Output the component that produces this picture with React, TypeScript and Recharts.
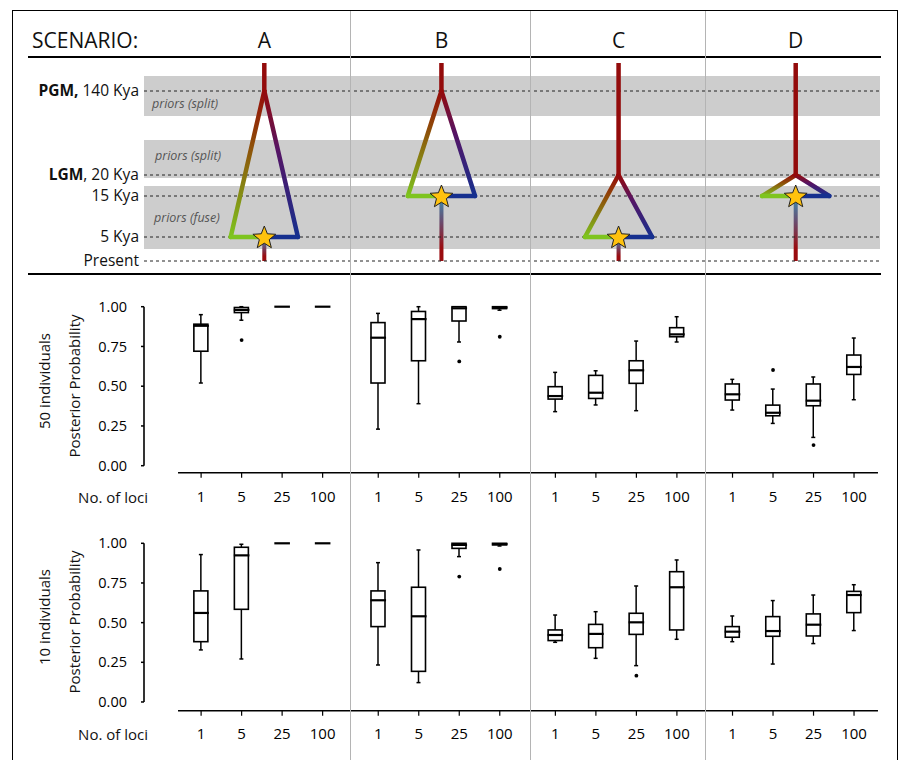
import React from 'react';
import {
  ComposedChart,
  Bar,
  Scatter,
  XAxis,
  YAxis,
  ReferenceLine,
  ReferenceArea,
} from 'recharts';

const SCENARIOS = ['A', 'B', 'C', 'D'];
const LOCI = ['1', '5', '25', '100'];
const Y_TICKS = [0, 0.25, 0.5, 0.75, 1];

// [min, q1, median, q3, max] for 1, 5, 25, 100 loci
const N50_A = [[0.52, 0.72, 0.88, 0.89, 0.95], [0.915, 0.963, 0.98, 0.995, 1], [1, 1, 1, 1, 1], [1, 1, 1, 1, 1]];
const N50_B = [[0.23, 0.52, 0.805, 0.9, 0.958], [0.39, 0.66, 0.922, 0.97, 1], [0.778, 0.91, 0.99, 1, 1], [0.978, 0.988, 0.995, 1, 1]];
const N50_C = [[0.34, 0.419, 0.438, 0.497, 0.587], [0.382, 0.423, 0.459, 0.568, 0.597], [0.346, 0.518, 0.6, 0.66, 0.784], [0.778, 0.811, 0.826, 0.868, 0.937]];
const N50_D = [[0.35, 0.413, 0.449, 0.514, 0.543], [0.266, 0.314, 0.333, 0.381, 0.482], [0.178, 0.377, 0.409, 0.514, 0.558], [0.415, 0.574, 0.621, 0.696, 0.803]];
const N50_OUTLIERS = [
  { scenario: 'A', loci: '5', value: 0.79 },
  { scenario: 'B', loci: '25', value: 0.656 },
  { scenario: 'B', loci: '100', value: 0.811 },
  { scenario: 'D', loci: '5', value: 0.602 },
  { scenario: 'D', loci: '25', value: 0.13 },
];

const N10_A = [[0.328, 0.38, 0.561, 0.7, 0.929], [0.271, 0.584, 0.924, 0.975, 0.994], [1, 1, 1, 1, 1], [1, 1, 1, 1, 1]];
const N10_B = [[0.233, 0.475, 0.641, 0.7, 0.878], [0.122, 0.193, 0.54, 0.723, 0.958], [0.916, 0.968, 0.99, 1, 1], [0.983, 0.99, 0.995, 1, 1]];
const N10_C = [[0.376, 0.387, 0.422, 0.454, 0.548], [0.275, 0.342, 0.429, 0.489, 0.569], [0.229, 0.426, 0.502, 0.559, 0.731], [0.395, 0.454, 0.723, 0.821, 0.895]];
const N10_D = [[0.38, 0.408, 0.443, 0.475, 0.542], [0.239, 0.414, 0.447, 0.538, 0.639], [0.368, 0.416, 0.487, 0.555, 0.674], [0.45, 0.563, 0.674, 0.697, 0.739]];
const N10_OUTLIERS = [
  { scenario: 'B', loci: '25', value: 0.79 },
  { scenario: 'B', loci: '100', value: 0.838 },
  { scenario: 'C', loci: '25', value: 0.166 },
];

// schematic time axis (not to scale): level 0 = present
const TIME_EVENTS = [
  { key: 'PGM', bold: 'PGM,', text: ' 140 Kya', level: 170 },
  { key: 'LGM', bold: 'LGM', text: ', 20 Kya', level: 86 },
  { key: '15', bold: '', text: '15 Kya', level: 65 },
  { key: '5', bold: '', text: '5 Kya', level: 24 },
  { key: '0', bold: '', text: 'Present', level: 0 },
];
const PRIOR_BANDS = [
  { label: 'priors (split)', from: 145, to: 185 },
  { label: 'priors (split)', from: 83, to: 121 },
  { label: 'priors (fuse)', from: 12, to: 75 },
];
const TREE_SPLIT = ['PGM', 'PGM', 'LGM', 'LGM'];
const TREE_FUSE = ['5', '15', '5', '15'];
const TOP_LEVEL = 198;

// layout
const FONT = "'Open Sans', 'Noto Sans', sans-serif";
const W = 898;
const PLOT_LEFT = 144;
const PLOT_RIGHT = 880;
const X_DOMAIN: [number, number] = [-1.41, 16.76];
const GROUP_STEP = 4.373;
const AXIS_START = -0.57;
const TREE_HALF = 0.83;
const TREE_SHIFT = 0.06;

const slot = (g: number, l: number) => g * GROUP_STEP + l;
const treeCenter = (g: number) => slot(g, 1.5) + TREE_SHIFT;
const px = (u: number) =>
  PLOT_LEFT + ((u - X_DOMAIN[0]) / (X_DOMAIN[1] - X_DOMAIN[0])) * (PLOT_RIGHT - PLOT_LEFT);
const levelOf = (key: string) => TIME_EVENTS.find((e) => e.key === key)!.level;

function buildRows(groups: number[][][]) {
  return groups.flatMap((g, gi) =>
    g.map(([min, q1, med, q3, max], li) => ({
      pos: slot(gi, li),
      base: min,
      lowW: q1 - min,
      box: q3 - q1,
      highW: max - q3,
      median: med,
    }))
  );
}

function buildOutliers(list: { scenario: string; loci: string; value: number }[]) {
  return list.map((o) => ({
    pos: slot(SCENARIOS.indexOf(o.scenario), LOCI.indexOf(o.loci)),
    value: o.value,
  }));
}

const LowWhisker = (p: any) => {
  const { x, y, width, height } = p;
  if (!height || height < 0.5) return <g />;
  const cx = x + width / 2;
  const yb = y + height;
  return (
    <g stroke="#000" strokeWidth={1.5}>
      <line x1={cx} x2={cx} y1={y} y2={yb} />
      <line x1={cx - 2} x2={cx + 2} y1={yb} y2={yb} />
    </g>
  );
};

const HighWhisker = (p: any) => {
  const { x, y, width, height } = p;
  if (!height || height < 0.5) return <g />;
  const cx = x + width / 2;
  return (
    <g stroke="#000" strokeWidth={1.5}>
      <line x1={cx} x2={cx} y1={y} y2={y + height} />
      <line x1={cx - 2} x2={cx + 2} y1={y} y2={y} />
    </g>
  );
};

const BoxRect = (p: any) => {
  const { x, y, width, height } = p;
  if (!height || height < 0.5) return <g />;
  return <rect x={x} y={y} width={width} height={height} fill="#fff" stroke="#000" strokeWidth={1.6} />;
};

const MedianMark = (p: any) => (
  <line x1={p.cx - 7.8} x2={p.cx + 7.8} y1={p.cy} y2={p.cy} stroke="#000" strokeWidth={2.2} />
);

const OutlierDot = (p: any) => <circle cx={p.cx} cy={p.cy} r={1.9} fill="#000" />;

const Star = (p: any) => {
  const pts: string[] = [];
  for (let k = 0; k < 10; k++) {
    const r = k % 2 === 0 ? 12 : 5.2;
    const a = -Math.PI / 2 + (k * Math.PI) / 5;
    pts.push(`${p.cx + r * Math.cos(a)},${p.cy + 1 + r * Math.sin(a)}`);
  }
  return <polygon points={pts.join(' ')} fill="#ffc20e" stroke="#222" strokeWidth={1} strokeLinejoin="round" />;
};

const TimeTick = (p: any) => {
  const ev = TIME_EVENTS.find((e) => e.level === p.payload.value);
  if (!ev) return <g />;
  return (
    <text x={p.x} y={p.y} dy={5} textAnchor="end" fontSize={15.5} fill="#111" fontFamily={FONT}>
      {ev.bold ? <tspan fontWeight={700}>{ev.bold}</tspan> : null}
      <tspan>{ev.text}</tspan>
    </text>
  );
};

const BAND_LABEL_POS = [
  { position: 'insideBottomLeft', offset: 8 },
  { position: 'insideTopLeft', offset: 11 },
  { position: 'insideLeft', offset: 10 },
];

function TreePanel() {
  const stars = SCENARIOS.map((_, g) => ({ pos: treeCenter(g), level: levelOf(TREE_FUSE[g]) }));
  return (
    <div style={{ position: 'absolute', left: 0, top: 58 }}>
      <ComposedChart width={W} height={214} data={stars} margin={{ top: 5, right: W - PLOT_RIGHT, bottom: 11, left: 14 }}>
        <defs>
          <linearGradient id="branchL" x1="0" y1="0" x2="0" y2="1">
            <stop offset="0%" stopColor="#950a0a" />
            <stop offset="35%" stopColor="#8f4a08" />
            <stop offset="100%" stopColor="#7ec41f" />
          </linearGradient>
          <linearGradient id="branchR" x1="0" y1="0" x2="0" y2="1">
            <stop offset="0%" stopColor="#950a0a" />
            <stop offset="40%" stopColor="#561464" />
            <stop offset="100%" stopColor="#16308f" />
          </linearGradient>
          <linearGradient id="stem" x1="0" y1="0" x2="0" y2="1">
            <stop offset="0%" stopColor="#3b90b4" />
            <stop offset="40%" stopColor="#6a4b6e" />
            <stop offset="80%" stopColor="#9a0c10" />
            <stop offset="100%" stopColor="#9a0c10" />
          </linearGradient>
        </defs>
        <XAxis type="number" dataKey="pos" domain={X_DOMAIN} hide />
        <YAxis
          type="number"
          domain={[0, TOP_LEVEL]}
          ticks={TIME_EVENTS.map((e) => e.level)}
          interval={0}
          axisLine={false}
          tickLine={false}
          tickSize={0}
          tickMargin={5}
          width={130}
          tick={<TimeTick />}
        />
        {PRIOR_BANDS.map((b, i) => (
          <ReferenceArea
            key={'band' + i}
            y1={b.from}
            y2={b.to}
            fill="#cdcdcd"
            fillOpacity={1}
            stroke="none"
            label={{
              value: b.label,
              position: BAND_LABEL_POS[i].position as any,
              offset: BAND_LABEL_POS[i].offset,
              fill: '#555',
              fontSize: 12.5,
              fontStyle: 'italic',
            }}
          />
        ))}
        {TIME_EVENTS.map((e) => (
          <ReferenceLine key={'t' + e.key} y={e.level} stroke="#222" strokeDasharray="3 3" strokeWidth={1} />
        ))}
        {SCENARIOS.map((s, g) => {
          const c = treeCenter(g);
          const fuse = levelOf(TREE_FUSE[g]);
          return (
            <ReferenceArea
              key={'stem' + s}
              x1={c - 0.05}
              x2={c + 0.05}
              y1={0}
              y2={fuse}
              fill="url(#stem)"
              fillOpacity={1}
              stroke="none"
            />
          );
        })}
        {SCENARIOS.map((s, g) => {
          const c = treeCenter(g);
          const split = levelOf(TREE_SPLIT[g]);
          return (
            <ReferenceLine
              key={'trunk' + s}
              segment={[{ x: c, y: TOP_LEVEL }, { x: c, y: split }]}
              stroke="#930b0b"
              strokeWidth={4.5}
            />
          );
        })}
        {SCENARIOS.map((s, g) => {
          const c = treeCenter(g);
          const split = levelOf(TREE_SPLIT[g]);
          const fuse = levelOf(TREE_FUSE[g]);
          return (
            <ReferenceLine
              key={'bl' + s}
              segment={[{ x: c, y: split }, { x: c - TREE_HALF, y: fuse }]}
              stroke="url(#branchL)"
              strokeWidth={4.5}
              strokeLinecap="round"
            />
          );
        })}
        {SCENARIOS.map((s, g) => {
          const c = treeCenter(g);
          const split = levelOf(TREE_SPLIT[g]);
          const fuse = levelOf(TREE_FUSE[g]);
          return (
            <ReferenceLine
              key={'br' + s}
              segment={[{ x: c, y: split }, { x: c + TREE_HALF, y: fuse }]}
              stroke="url(#branchR)"
              strokeWidth={4.5}
              strokeLinecap="round"
            />
          );
        })}
        {SCENARIOS.map((s, g) => {
          const c = treeCenter(g);
          const fuse = levelOf(TREE_FUSE[g]);
          return (
            <ReferenceLine
              key={'fl' + s}
              segment={[{ x: c - TREE_HALF, y: fuse }, { x: c, y: fuse }]}
              stroke="#7ec41f"
              strokeWidth={4.5}
              strokeLinecap="round"
            />
          );
        })}
        {SCENARIOS.map((s, g) => {
          const c = treeCenter(g);
          const fuse = levelOf(TREE_FUSE[g]);
          return (
            <ReferenceLine
              key={'fr' + s}
              segment={[{ x: c, y: fuse }, { x: c + TREE_HALF, y: fuse }]}
              stroke="#16308f"
              strokeWidth={4.5}
              strokeLinecap="round"
            />
          );
        })}
        <Scatter dataKey="level" shape={Star} isAnimationActive={false} />
      </ComposedChart>
    </div>
  );
}

function BoxPanel(props: {
  rows: any[];
  outliers: any[];
  top: number;
  yMin: number;
  marginTop: number;
  marginBottom: number;
  tickGap: number;
}) {
  const { rows, outliers, top, yMin, marginTop, marginBottom, tickGap } = props;
  return (
    <div style={{ position: 'absolute', left: 0, top }}>
      <ComposedChart
        width={W}
        height={240}
        data={rows}
        barSize={14}
        margin={{ top: marginTop, right: W - PLOT_RIGHT, bottom: marginBottom, left: 40 }}
      >
        <XAxis
          type="number"
          dataKey="pos"
          domain={X_DOMAIN}
          ticks={rows.map((r) => r.pos)}
          interval={0}
          tickFormatter={(v: number, i: number) => LOCI[i % 4]}
          axisLine={false}
          tickLine={{ stroke: '#000', strokeWidth: 1.2 }}
          tickSize={5}
          tickMargin={tickGap}
          height={40}
          tick={{ fill: '#000', fontSize: 15 }}
        />
        <YAxis
          type="number"
          domain={[yMin, 1]}
          ticks={Y_TICKS}
          interval={0}
          tickFormatter={(v: number) => v.toFixed(2)}
          axisLine={false}
          tickLine={{ stroke: '#000', strokeWidth: 1.5 }}
          tickSize={3}
          tickMargin={14}
          width={104}
          tick={{ fill: '#000', fontSize: 14.5 }}
        />
        <ReferenceLine
          segment={[{ x: X_DOMAIN[0], y: 0 }, { x: X_DOMAIN[0], y: 1 }]}
          stroke="#000"
          strokeWidth={1.6}
        />
        <ReferenceLine
          segment={[{ x: AXIS_START, y: yMin }, { x: X_DOMAIN[1] - 0.05, y: yMin }]}
          stroke="#000"
          strokeWidth={1.6}
        />
        <Bar dataKey="base" stackId="b" fill="none" shape={() => <g />} isAnimationActive={false} />
        <Bar dataKey="lowW" stackId="b" shape={LowWhisker} isAnimationActive={false} />
        <Bar dataKey="box" stackId="b" shape={BoxRect} isAnimationActive={false} />
        <Bar dataKey="highW" stackId="b" shape={HighWhisker} isAnimationActive={false} />
        <Scatter dataKey="median" shape={MedianMark} isAnimationActive={false} />
        <Scatter data={outliers} dataKey="value" shape={OutlierDot} isAnimationActive={false} />
      </ComposedChart>
    </div>
  );
}

const abs = (s: React.CSSProperties): React.CSSProperties => ({ position: 'absolute', ...s });

export default function App() {
  const rows50 = buildRows([N50_A, N50_B, N50_C, N50_D]);
  const rows10 = buildRows([N10_A, N10_B, N10_C, N10_D]);
  const out50 = buildOutliers(N50_OUTLIERS);
  const out10 = buildOutliers(N10_OUTLIERS);

  const rotated = (text: string, x: number, y: number) => (
    <div
      style={abs({
        left: x,
        top: y,
        transform: 'translate(-50%, -50%) rotate(-90deg)',
        whiteSpace: 'nowrap',
        fontSize: 15,
        lineHeight: '15px',
        color: '#111',
      })}
    >
      {text}
    </div>
  );

  return (
    <div style={abs({ left: 0, top: 0, width: W, height: 760, background: '#fff', fontFamily: FONT, overflow: 'hidden' })}>
      <div
        style={abs({
          left: 12,
          top: 10,
          width: 886,
          height: 760,
          boxSizing: 'border-box',
          borderTop: '1.5px solid #000',
          borderLeft: '1.5px solid #000',
          borderRight: '1.5px solid #000',
        })}
      />
      <div style={abs({ left: 32, top: 29.5, fontSize: 21, lineHeight: '21px', color: '#111' })}>SCENARIO:</div>
      {SCENARIOS.map((s, g) => (
        <div
          key={s}
          style={abs({ left: px(treeCenter(g)) - 20, width: 40, top: 29.5, textAlign: 'center', fontSize: 21, lineHeight: '21px', color: '#111' })}
        >
          {s}
        </div>
      ))}
      <div style={abs({ left: 28, top: 56, width: 853, height: 2, background: '#000' })} />
      <div style={abs({ left: 28, top: 273, width: 853, height: 2, background: '#000' })} />

      <TreePanel />
      <BoxPanel rows={rows50} outliers={out50} top={280} yMin={-0.044} marginTop={26.7} marginBottom={7.3} tickGap={14} />
      <BoxPanel rows={rows10} outliers={out10} top={520} yMin={-0.055} marginTop={23.3} marginBottom={9.3} tickGap={13} />

      <div style={abs({ left: 40, width: 108, top: 489.5, textAlign: 'right', fontSize: 15, lineHeight: '15px', color: '#111' })}>No. of loci</div>
      <div style={abs({ left: 40, width: 108, top: 726.7, textAlign: 'right', fontSize: 15, lineHeight: '15px', color: '#111' })}>No. of loci</div>
      {rotated('50 individuals', 44, 381)}
      {rotated('Posterior Probability', 74, 386)}
      {rotated('10 individuals', 44, 617)}
      {rotated('Posterior Probability', 74, 622)}

      {[350, 530, 705].map((x) => (
        <div key={x} style={abs({ left: x, top: 11, width: 1, height: 760, background: '#b4b4b4' })} />
      ))}
    </div>
  );
}
